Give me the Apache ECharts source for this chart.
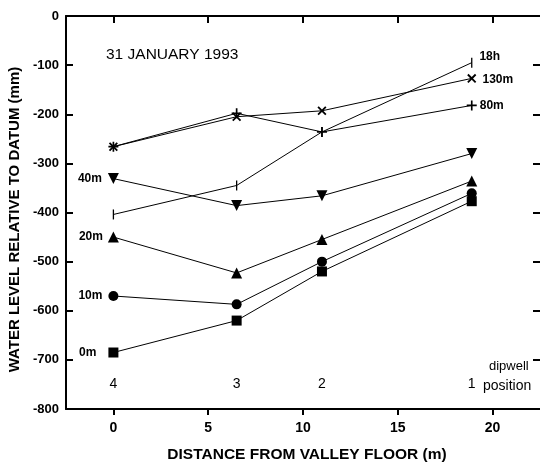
<!DOCTYPE html>
<html>
<head>
<meta charset="utf-8">
<script src="https://cdn.jsdelivr.net/npm/echarts@6/dist/echarts.min.js"></script>
<style>html,body{margin:0;padding:0;background:#fff}#c{width:540px;height:466px}</style>
</head>
<body>
<div id="c"></div>
<script>
var distances = [0, 6.5, 11, 18.9];
var dipwellLabels = ['4', '3', '2', '1'];
var xTicks = [0, 5, 10, 15, 20];

var s0m   = [-685, -620, -520, -377];
var s10m  = [-570, -587, -500, -361];
var s20m  = [-450, -523, -455, -336];
var s40m  = [-331, -386, -366, -280];
var s18h  = [-404, -345, -236, -95];
var s80m  = [-266, -198, -236, -182];
var s130m = [-266, -205, -193, -127];

var FONT = '"Liberation Sans", Arial, Helvetica, sans-serif';
var plusPath = 'path://M4,0h1.6v4h4v1.6h-4v4h-1.6v-4h-4v-1.6h4z';

function pts(vals) { return distances.map(function (d, i) { return [d, vals[i]]; }); }

function mk(name, vals, symbol, size, opts) {
  opts = opts || {};
  var data = pts(vals).map(function (p, i) {
    var o = { value: p };
    if (opts.labelIdx === i) {
      o.label = Object.assign({ show: true, formatter: name, color: '#000', fontFamily: FONT, fontSize: 12, fontWeight: 'bold' }, opts.label);
    }
    return o;
  });
  return {
    type: 'line', name: name, data: data,
    symbol: symbol, symbolSize: size, symbolRotate: opts.rotate || 0,
    showAllSymbol: true,
    lineStyle: { color: '#000', width: 1 },
    itemStyle: { color: '#000', borderColor: '#000', borderWidth: 0 },
    label: { show: false },
    emphasis: { disabled: true },
    animation: false, z: 3
  };
}

var series = [
  mk('0m', s0m, 'rect', 10, { labelIdx: 0, label: { position: 'left', distance: 12 } }),
  mk('10m', s10m, 'circle', 10, { labelIdx: 0, label: { position: 'left', distance: 6 } }),
  mk('20m', s20m, 'triangle', 11, { labelIdx: 0, label: { position: 'left', distance: 5 } }),
  mk('40m', s40m, 'triangle', 11, { rotate: 180, labelIdx: 0, label: { position: 'left', distance: 6 } }),
  mk('18h', s18h, 'rect', [1.3, 10], { labelIdx: 3, label: { position: 'right', distance: 7, offset: [0, -6] } }),
  mk('80m', s80m, plusPath, 10, { labelIdx: 3, label: { position: 'right', distance: 3 } }),
  mk('130m', s130m, plusPath, 11, { rotate: 45, labelIdx: 3, label: { position: 'right', distance: 3, offset: [0, 1] } }),
  {
    type: 'scatter', name: 'dipwell', symbol: 'circle', symbolSize: 1,
    itemStyle: { color: 'rgba(0,0,0,0)', opacity: 1 },
    data: distances.map(function (d, i) { return { value: [d, -750], name: dipwellLabels[i] }; }),
    label: { show: true, position: 'inside', formatter: function (p) { return p.name; }, color: '#000',
      textBorderWidth: 0, fontFamily: FONT, fontSize: 14 },
    emphasis: { disabled: true },
    silent: true, animation: false
  }
];

var chart = echarts.init(document.getElementById('c'), null, { renderer: 'canvas' });
chart.setOption({
  backgroundColor: '#fff',
  animation: false,
  grid: { left: 66, top: 16, right: 0, bottom: 57, containLabel: false, outerBoundsMode: 'none' },
  xAxis: [{
    type: 'value', min: -2.5, max: 22.5, position: 'bottom',
    name: 'DISTANCE FROM VALLEY FLOOR (m)', nameLocation: 'middle', nameGap: 38,
    nameTextStyle: { color: '#000', fontFamily: FONT, fontSize: 15.5, fontWeight: 'bold', padding: [0, 0, 0, 8] },
    axisLine: { show: true, onZero: false, lineStyle: { color: '#000', width: 2 } },
    axisTick: { show: true, inside: false, length: 6, customValues: xTicks, lineStyle: { color: '#000', width: 2 } },
    axisLabel: { customValues: xTicks, color: '#000', fontFamily: FONT, fontSize: 14, fontWeight: 'bold', margin: 12 },
    splitLine: { show: false }
  }, {
    type: 'value', min: -2.5, max: 22.5, position: 'top',
    axisLine: { show: true, onZero: false, lineStyle: { color: '#000', width: 2 } },
    axisTick: { show: true, inside: true, length: 7, customValues: xTicks, lineStyle: { color: '#000', width: 2 } },
    axisLabel: { show: false },
    splitLine: { show: false }
  }],
  yAxis: [{
    type: 'value', min: -800, max: 0, interval: 100, position: 'left',
    name: 'WATER LEVEL RELATIVE TO DATUM (mm)', nameLocation: 'middle', nameGap: 44, nameRotate: 90,
    nameTextStyle: { color: '#000', fontFamily: FONT, fontSize: 15, fontWeight: 'bold', padding: [0, 14, 0, 0] },
    axisLine: { show: true, onZero: false, lineStyle: { color: '#000', width: 2 } },
    axisTick: { show: true, inside: true, length: 7, lineStyle: { color: '#000', width: 2 } },
    axisLabel: { color: '#000', fontFamily: FONT, fontSize: 13, fontWeight: 'bold', margin: 7 },
    splitLine: { show: false }
  }, {
    type: 'value', min: -800, max: 0, interval: 100, position: 'right',
    axisLine: { show: false, onZero: false },
    axisTick: { show: true, inside: true, length: 7, lineStyle: { color: '#000', width: 2 } },
    axisLabel: { show: false },
    splitLine: { show: false }
  }],
  graphic: [
    { type: 'text', left: 106, top: 47, style: { text: '31 JANUARY 1993', fill: '#000', font: '15.5px ' + FONT } },
    { type: 'text', left: 489, top: 360, style: { text: 'dipwell', fill: '#000', font: '13px ' + FONT } },
    { type: 'text', left: 483, top: 379, style: { text: 'position', fill: '#000', font: '14px ' + FONT } }
  ],
  series: series
});
</script>
</body>
</html>
